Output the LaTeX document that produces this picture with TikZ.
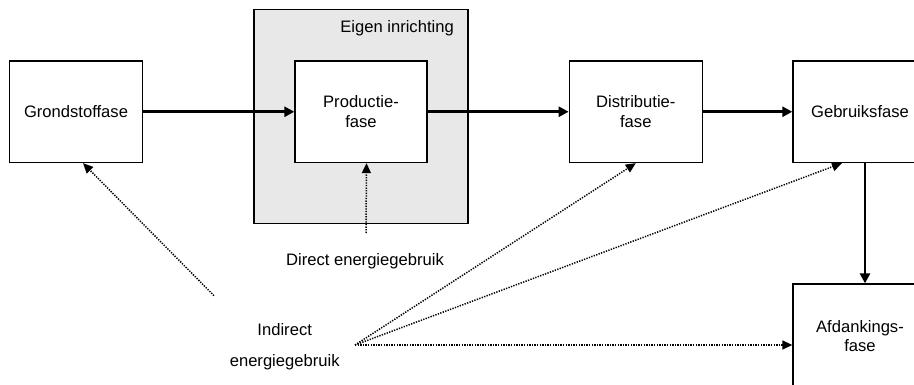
\documentclass[tikz,border=0pt]{standalone}
\usepackage{fontspec}
\setmainfont{Liberation Sans}
\usetikzlibrary{arrows.meta}
\definecolor{boxgrey}{HTML}{E8E8E8}
\begin{document}
\begin{tikzpicture}[x=1pt,y=-1pt,
  font=\fontsize{16.6}{19.5}\selectfont,
  phase/.style={draw,line width=1.3pt,fill=white,minimum width=133pt,minimum height=101.5pt,align=center,inner sep=0pt},
  flow/.style={line width=2.6pt,-{Triangle[length=10pt,width=10pt]}},
  energy/.style={line width=1.5pt,dash pattern=on 1.3pt off 1.3pt,-{Triangle[length=10pt,width=9pt]}},
  lbl/.style={inner sep=0pt,align=center}]
\useasboundingbox (0,0) rectangle (914,385);
\clip (0,0) rectangle (914,385);
\node[draw,line width=1.3pt,fill=boxgrey,minimum width=214pt,minimum height=214pt,inner sep=0pt] (eigen) at (361,116.3) {};
\node[lbl,anchor=east] (eigenlbl) at (454,28) {Eigen inrichting};
\node[phase] (grond) at (76,111.75) {Grondstoffase};
\node[phase,minimum width=132pt] (prod) at (361,111.75) {Productie-\\fase};
\node[phase] (dist) at (635.8,111.75) {Distributie-\\fase};
\node[phase,minimum width=134pt] (gebr) at (860,111.75) {Gebruiksfase};
\node[phase,minimum width=134pt,minimum height=104pt] (afd) at (860,336) {Afdankings-\\fase};
\node[lbl] (direct) at (365,261) {Direct energiegebruik};
\node[lbl,font=\fontsize{16.6}{31}\selectfont] (indirect) at (284.7,347) {Indirect\\energiegebruik};
\coordinate (dsrc) at (366,233);
\coordinate (gsrc) at (214,295.7);
\coordinate (isrc) at (355,345);
\draw[flow] (grond.east) -- (prod.west);
\draw[flow] (prod.east) -- (dist.west);
\draw[flow] (dist.east) -- (gebr.west);
\draw[flow] ([xshift=5pt]gebr.south) -- ([xshift=5pt]afd.north);
\draw[energy] (dsrc) -- ([xshift=5.5pt]prod.south);
\draw[energy] (gsrc) -- ([xshift=7pt]grond.south);
\draw[energy] (isrc) -- (dist.south);
\draw[energy] (isrc) -- ([xshift=-18pt]gebr.south);
\draw[energy] (isrc) -- (isrc -| afd.west);
\end{tikzpicture}
\end{document}
